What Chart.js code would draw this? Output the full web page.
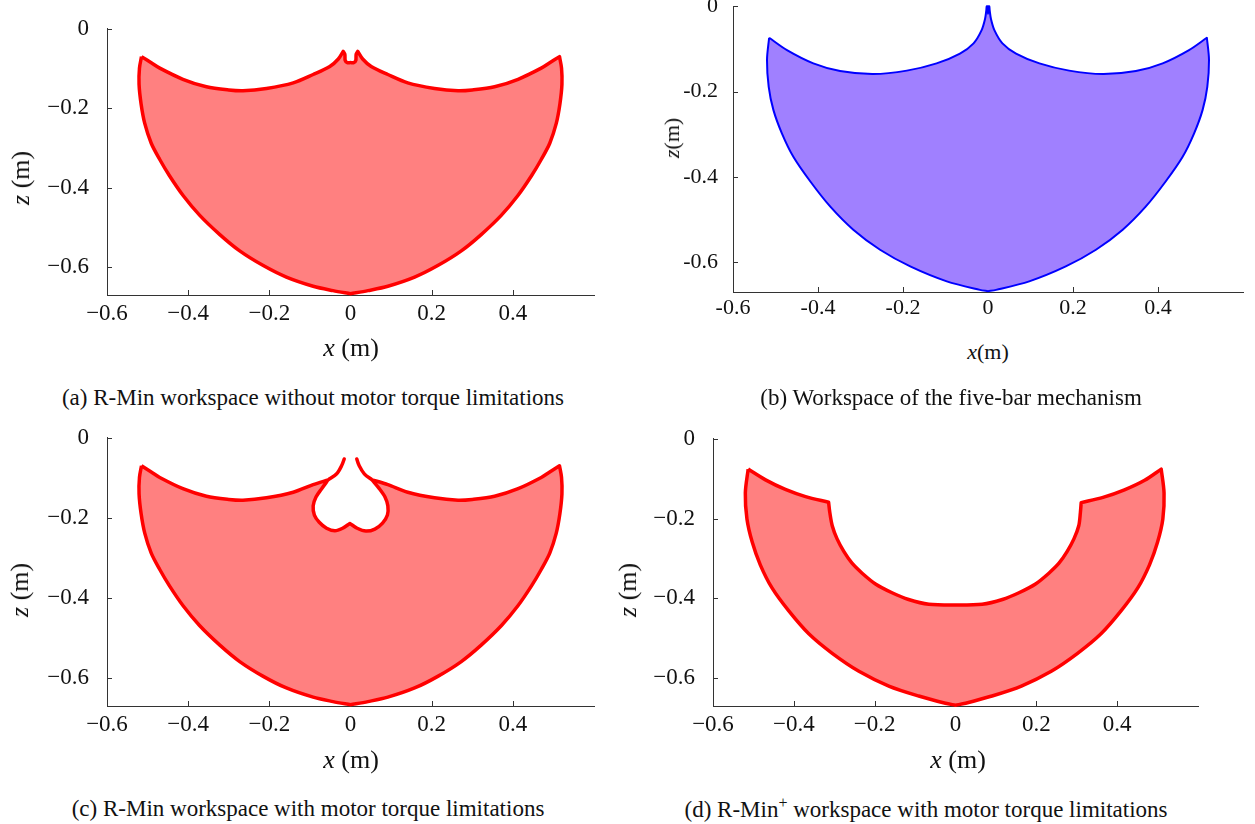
<!DOCTYPE html>
<html>
<head>
<meta charset="utf-8">
<script src="https://cdn.jsdelivr.net/npm/chart.js@4.4.1/dist/chart.umd.min.js"></script>
<style>
  body { margin: 0; background: #fff; }
  #page { position: relative; width: 1255px; height: 824px; overflow: hidden; font-family: "Liberation Serif", serif; color: #111; }
  canvas { position: absolute; }
  .lbl { position: absolute; white-space: nowrap; line-height: 1; transform: translate(-50%, -50%); }
  .rot { transform: translate(-50%, -50%) rotate(-90deg); }
  .ttl { font-size: 26px; }
  .ttlb { font-size: 22px; }
  .cap { font-size: 23px; }
</style>
</head>
<body>
<div id="page">
  <canvas id="ca"></canvas>
  <canvas id="cb"></canvas>
  <canvas id="cc"></canvas>
  <canvas id="cd"></canvas>

  <div class="lbl ttl" style="left:351px;top:348px"><i>x</i> (m)</div>
  <div class="lbl ttl rot" style="left:21px;top:178px"><i>z</i> (m)</div>
  <div class="lbl cap" style="left:313px;top:397px">(a) R-Min workspace without motor torque limitations</div>

  <div class="lbl ttlb" style="left:988px;top:352px"><i>x</i>(m)</div>
  <div class="lbl ttlb rot" style="left:672px;top:138px"><i>z</i>(m)</div>
  <div class="lbl cap" style="left:951px;top:397px">(b) Workspace of the five-bar mechanism</div>

  <div class="lbl ttl" style="left:351px;top:760px"><i>x</i> (m)</div>
  <div class="lbl ttl rot" style="left:20px;top:590px"><i>z</i> (m)</div>
  <div class="lbl cap" style="left:308px;top:808px">(c) R-Min workspace with motor torque limitations</div>

  <div class="lbl ttl" style="left:958px;top:760px"><i>x</i> (m)</div>
  <div class="lbl ttl rot" style="left:628px;top:590px"><i>z</i> (m)</div>
  <div class="lbl cap" style="left:926px;top:808px">(d) R-Min<sup style="font-size:16px">+</sup> workspace with motor torque limitations</div>
</div>
<script>
// tick values and labels
const xTickVals = [-0.6, -0.4, -0.2, 0, 0.2, 0.4];
const xTickLabels = ['−0.6', '−0.4', '−0.2', '0', '0.2', '0.4'];
const xTickLabelsB = ['-0.6', '-0.4', '-0.2', '0', '0.2', '0.4'];
const zTickVals = [0, -0.2, -0.4, -0.6];
const zTickLabels = ['0', '−0.2', '−0.4', '−0.6'];
const zTickLabelsB = ['0', '-0.2', '-0.4', '-0.6'];

// outlines are closed; corner points are listed twice so they stay sharp

// (a) R-Min workspace without torque limits
const xA = [-0.515, -0.490, -0.470, -0.413, -0.355, -0.300, -0.265, -0.207, -0.141, -0.092, -0.051, -0.030, -0.018, -0.018, -0.014, -0.013, -0.008, 0, 0.008, 0.013, 0.014, 0.018, 0.018, 0.030, 0.051, 0.092, 0.141, 0.207, 0.265, 0.300, 0.355, 0.413, 0.470, 0.490, 0.515, 0.515,
  0.520, 0.521, 0.516, 0.507, 0.491, 0.470, 0.446, 0.413, 0.372, 0.322, 0.273, 0.215, 0.158, 0.092, 0.043, 0, 0,
  -0.043, -0.092, -0.158, -0.215, -0.273, -0.322, -0.372, -0.413, -0.446, -0.470, -0.491, -0.507, -0.516, -0.521, -0.520, -0.515];
const zA = [-0.070, -0.086, -0.099, -0.127, -0.146, -0.154, -0.156, -0.150, -0.136, -0.115, -0.095, -0.076, -0.057, -0.057, -0.064, -0.080, -0.085, -0.085, -0.085, -0.080, -0.064, -0.057, -0.057, -0.076, -0.095, -0.115, -0.136, -0.150, -0.156, -0.154, -0.146, -0.127, -0.099, -0.086, -0.070, -0.070,
  -0.099, -0.140, -0.189, -0.238, -0.288, -0.329, -0.370, -0.419, -0.469, -0.518, -0.559, -0.596, -0.625, -0.648, -0.659, -0.667, -0.667,
  -0.659, -0.648, -0.625, -0.596, -0.559, -0.518, -0.469, -0.419, -0.370, -0.329, -0.288, -0.238, -0.189, -0.140, -0.099, -0.070];

// (b) five-bar workspace
const xB = [-0.515, -0.473, -0.411, -0.348, -0.270, -0.191, -0.121, -0.066, -0.034, -0.015, -0.007, -0.004, -0.003, -0.001, 0, 0.001, 0.003, 0.004, 0.007, 0.015, 0.034, 0.066, 0.121, 0.191, 0.270, 0.348, 0.411, 0.473, 0.515, 0.515,
  0.520, 0.516, 0.505, 0.485, 0.458, 0.418, 0.371, 0.317, 0.254, 0.183, 0.097, 0.019, 0, 0,
  -0.019, -0.097, -0.183, -0.254, -0.317, -0.371, -0.418, -0.458, -0.485, -0.505, -0.516, -0.520, -0.515];
const zB = [-0.074, -0.103, -0.134, -0.152, -0.159, -0.151, -0.134, -0.111, -0.087, -0.056, -0.030, -0.010, 0, 0, -0.018, 0, 0, -0.010, -0.030, -0.056, -0.087, -0.111, -0.134, -0.151, -0.159, -0.152, -0.134, -0.103, -0.074, -0.074,
  -0.126, -0.189, -0.243, -0.298, -0.353, -0.411, -0.470, -0.524, -0.571, -0.610, -0.645, -0.665, -0.668, -0.668,
  -0.665, -0.645, -0.610, -0.571, -0.524, -0.470, -0.411, -0.353, -0.298, -0.243, -0.189, -0.126, -0.074];

// (c) R-Min workspace with torque limits (heart-shaped hole open at the top)
const xC = [-0.515, -0.490, -0.470, -0.413, -0.355, -0.300, -0.265, -0.207, -0.141, -0.092, -0.055, -0.055,
  -0.034, -0.022, -0.0155, -0.022, -0.034, -0.055, -0.055,
  -0.071, -0.085, -0.092, -0.089, -0.077, -0.059, -0.0385, -0.0195, -0.0015, -0.0015, 0.0165, 0.038, 0.060, 0.079, 0.091, 0.092, 0.085, 0.071, 0.053, 0.053,
  0.034, 0.0215, 0.0155, 0.0215, 0.034, 0.053, 0.053,
  0.092, 0.141, 0.207, 0.265, 0.300, 0.355, 0.413, 0.470, 0.490, 0.515, 0.515,
  0.520, 0.521, 0.516, 0.507, 0.491, 0.470, 0.446, 0.413, 0.372, 0.322, 0.273, 0.215, 0.158, 0.092, 0.043, 0, 0,
  -0.043, -0.092, -0.158, -0.215, -0.273, -0.322, -0.372, -0.413, -0.446, -0.470, -0.491, -0.507, -0.516, -0.521, -0.520, -0.515];
const zC = [-0.070, -0.086, -0.099, -0.127, -0.146, -0.154, -0.156, -0.150, -0.136, -0.117, -0.105, -0.105,
  -0.090, -0.070, -0.053, -0.070, -0.090, -0.105, -0.105,
  -0.127, -0.148, -0.170, -0.193, -0.211, -0.226, -0.2325, -0.226, -0.214, -0.214, -0.226, -0.233, -0.228, -0.213, -0.193, -0.170, -0.148, -0.127, -0.105, -0.105,
  -0.090, -0.070, -0.053, -0.070, -0.090, -0.105, -0.105,
  -0.117, -0.136, -0.150, -0.156, -0.154, -0.146, -0.127, -0.099, -0.086, -0.070, -0.070,
  -0.099, -0.140, -0.189, -0.238, -0.288, -0.329, -0.370, -0.419, -0.469, -0.518, -0.559, -0.596, -0.625, -0.648, -0.659, -0.667, -0.667,
  -0.659, -0.648, -0.625, -0.596, -0.559, -0.518, -0.469, -0.419, -0.370, -0.329, -0.288, -0.238, -0.189, -0.140, -0.099, -0.070];

// (d) R-Min+ workspace with torque limits
const xD = [-0.513, -0.470, -0.421, -0.371, -0.314, -0.314,
  -0.311, -0.305, -0.293, -0.276, -0.256, -0.231, -0.198, -0.157, -0.116, -0.066, 0, 0.066, 0.116, 0.157, 0.198, 0.231, 0.256, 0.276, 0.293, 0.305, 0.309, 0.311, 0.311,
  0.365, 0.418, 0.468, 0.509, 0.509,
  0.516, 0.513, 0.500, 0.480, 0.451, 0.410, 0.360, 0.302, 0.237, 0.163, 0.090, 0.025, 0, 0,
  -0.025, -0.091, -0.165, -0.239, -0.305, -0.363, -0.413, -0.454, -0.483, -0.503, -0.516, -0.520, -0.513];
const zD = [-0.076, -0.103, -0.127, -0.145, -0.159, -0.159,
  -0.185, -0.218, -0.251, -0.283, -0.312, -0.337, -0.364, -0.386, -0.403, -0.415, -0.417, -0.415, -0.403, -0.386, -0.364, -0.337, -0.312, -0.283, -0.251, -0.218, -0.185, -0.160, -0.160,
  -0.147, -0.128, -0.104, -0.076, -0.076,
  -0.136, -0.201, -0.259, -0.316, -0.374, -0.431, -0.489, -0.538, -0.583, -0.620, -0.645, -0.663, -0.668, -0.668,
  -0.663, -0.645, -0.620, -0.583, -0.538, -0.489, -0.431, -0.374, -0.316, -0.259, -0.201, -0.136, -0.076];

const axisColor = '#333';
const tickFont = '"Liberation Serif", "Times New Roman", serif';

// small inward tick marks, like the original plots
const innerTicks = {
  id: 'innerTicks',
  beforeDatasetsDraw(chart) {
    const { ctx, chartArea: a, scales: { x, y } } = chart;
    ctx.save();
    ctx.strokeStyle = axisColor;
    ctx.lineWidth = 1;
    ctx.beginPath();
    x.ticks.forEach(t => {
      const px = Math.round(x.getPixelForValue(t.value)) + 0.5;
      ctx.moveTo(px, a.bottom);
      ctx.lineTo(px, a.bottom - 5);
    });
    y.ticks.forEach(t => {
      const py = Math.round(y.getPixelForValue(t.value)) + 0.5;
      ctx.moveTo(a.left, py);
      ctx.lineTo(a.left + 5, py);
    });
    ctx.stroke();
    ctx.restore();
  }
};

function makePanel(id, rect, xs, zs, st) {
  const cv = document.getElementById(id);
  cv.width = rect.right - rect.left + 140;
  cv.height = rect.bottom - rect.top + 60;
  cv.style.left = (rect.left - 120) + 'px';
  cv.style.top = (rect.top - 20) + 'px';

  new Chart(cv, {
    type: 'scatter',
    data: {
      datasets: [{
        data: xs.map((x, i) => ({ x: x, y: zs[i] })),
        showLine: true,
        fill: 'shape',
        backgroundColor: st.fill,
        borderColor: st.line,
        borderWidth: st.width,
        borderJoinStyle: 'round',
        pointRadius: 0,
        tension: 0.3,
        clip: false
      }]
    },
    options: {
      responsive: false,
      animation: false,
      layout: { padding: { left: 0, top: 20, right: 20, bottom: 0 } },
      plugins: { legend: { display: false }, tooltip: { enabled: false } },
      scales: {
        x: {
          type: 'linear', min: -0.6, max: 0.6,
          grid: { display: false },
          border: { display: true, color: axisColor, width: 1 },
          afterBuildTicks: a => { a.ticks = xTickVals.map(v => ({ value: v })); },
          afterFit: a => { a.height = 40; },
          ticks: {
            callback: (v, i) => st.xLabels[i],
            font: { family: tickFont, size: st.tickSize },
            color: '#111', padding: st.xPad, maxRotation: 0, autoSkip: false
          }
        },
        y: {
          type: 'linear', min: -0.67, max: 0,
          grid: { display: false },
          border: { display: true, color: axisColor, width: 1 },
          afterBuildTicks: a => { a.ticks = zTickVals.map(v => ({ value: v })); },
          afterFit: a => { a.width = 120; },
          ticks: {
            callback: (v, i) => st.zLabels[i],
            font: { family: tickFont, size: st.tickSize },
            color: '#111', padding: st.yPad, autoSkip: false
          }
        }
      }
    },
    plugins: [innerTicks]
  });
}

const redStyle = { fill: '#ff8080', line: '#ff0000', width: 3.5, tickSize: 23, xPad: -3, yPad: 10, xLabels: xTickLabels, zLabels: zTickLabels };
const blueStyle = { fill: '#a080ff', line: '#0000ff', width: 2, tickSize: 22, xPad: -5, yPad: 7, xLabels: xTickLabelsB, zLabels: zTickLabelsB };

makePanel('ca', { left: 107, top: 25, right: 594, bottom: 295 }, xA, zA, redStyle);
makePanel('cb', { left: 733, top: 6, right: 1243, bottom: 292 }, xB, zB, blueStyle);
makePanel('cc', { left: 107, top: 434, right: 594, bottom: 706 }, xC, zC, redStyle);
makePanel('cd', { left: 713, top: 435, right: 1198, bottom: 706 }, xD, zD, redStyle);
</script>
</body>
</html>
